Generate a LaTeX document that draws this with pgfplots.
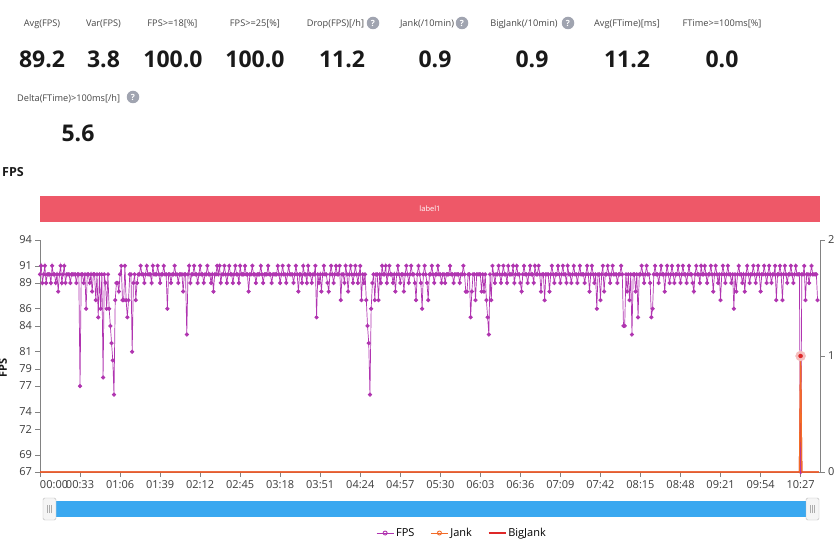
\documentclass[border=0pt]{standalone}
\usepackage{fontspec}
\setmainfont{Open Sans}
\usepackage{pgfplots}
\usepackage{pgfplotstable}
\pgfplotsset{compat=1.18}
\definecolor{fpsc}{RGB}{176,52,176}
\definecolor{jankc}{RGB}{242,107,40}
\definecolor{bigjc}{RGB}{222,40,40}
\definecolor{labc}{RGB}{70,70,70}
\definecolor{valc}{RGB}{25,25,25}
\definecolor{iconc}{RGB}{160,164,176}
\definecolor{barc}{RGB}{238,88,104}
\definecolor{slidc}{RGB}{58,168,240}
\definecolor{axisc}{RGB}{130,130,130}
\definecolor{tickc}{RGB}{60,60,60}

\pgfplotstableread[row sep=\\]{
fps\\
90\\91\\89\\90\\91\\89\\90\\90\\90\\89\\91\\90\\90\\89\\90\\88\\90\\91\\89\\90\\
91\\89\\90\\90\\90\\89\\90\\90\\90\\90\\89\\90\\90\\77\\90\\90\\89\\90\\86\\90\\
90\\89\\90\\88\\90\\90\\87\\90\\85\\90\\86\\90\\78\\90\\89\\86\\90\\86\\84\\82\\
80\\76\\87\\89\\89\\88\\90\\91\\87\\87\\91\\87\\85\\87\\90\\90\\81\\89\\90\\87\\
89\\90\\90\\91\\90\\90\\89\\90\\91\\90\\90\\90\\89\\91\\90\\90\\90\\91\\90\\89\\
90\\90\\91\\90\\90\\86\\90\\90\\89\\90\\90\\91\\90\\90\\89\\90\\90\\90\\88\\90\\
90\\83\\90\\91\\89\\90\\90\\91\\90\\90\\89\\90\\91\\90\\90\\89\\90\\90\\91\\90\\
90\\89\\90\\88\\90\\90\\91\\90\\91\\89\\90\\90\\91\\90\\89\\90\\91\\90\\90\\89\\
90\\91\\90\\90\\89\\91\\90\\90\\90\\91\\90\\90\\88\\90\\90\\91\\90\\90\\89\\90\\
90\\90\\91\\90\\89\\90\\90\\90\\91\\90\\90\\89\\90\\90\\90\\90\\91\\90\\89\\90\\
91\\90\\90\\89\\90\\91\\90\\90\\90\\89\\90\\91\\90\\88\\90\\90\\89\\91\\90\\90\\
89\\91\\90\\90\\89\\90\\90\\91\\85\\90\\89\\90\\88\\90\\91\\90\\90\\89\\88\\90\\
91\\90\\89\\90\\91\\90\\90\\91\\87\\90\\90\\89\\91\\90\\88\\90\\91\\90\\89\\90\\
91\\90\\89\\90\\91\\87\\90\\89\\90\\87\\84\\82\\76\\86\\89\\90\\87\\90\\90\\87\\
90\\89\\91\\90\\90\\91\\89\\90\\91\\90\\90\\89\\90\\88\\90\\91\\90\\89\\90\\90\\
88\\90\\91\\90\\89\\90\\91\\90\\90\\89\\87\\90\\91\\90\\89\\86\\90\\91\\90\\89\\
87\\90\\90\\91\\90\\89\\90\\90\\91\\90\\90\\89\\90\\90\\89\\90\\90\\90\\91\\90\\
90\\89\\90\\90\\90\\90\\89\\90\\90\\91\\90\\88\\88\\90\\90\\85\\88\\90\\90\\87\\
90\\90\\90\\90\\88\\90\\88\\90\\87\\85\\83\\90\\87\\91\\90\\89\\90\\90\\91\\90\\
89\\90\\91\\90\\90\\89\\91\\90\\90\\90\\91\\89\\90\\91\\90\\90\\89\\88\\90\\91\\
90\\90\\89\\90\\91\\90\\90\\89\\91\\90\\90\\91\\90\\88\\90\\90\\87\\90\\90\\90\\
88\\90\\91\\90\\89\\90\\90\\91\\90\\89\\90\\91\\90\\90\\89\\91\\90\\90\\89\\90\\
91\\90\\90\\89\\90\\91\\90\\90\\90\\89\\90\\91\\90\\88\\90\\91\\90\\89\\90\\86\\
90\\90\\87\\90\\91\\88\\90\\90\\91\\90\\89\\90\\91\\90\\90\\90\\89\\90\\90\\91\\
90\\84\\84\\90\\88\\90\\87\\90\\83\\90\\90\\88\\90\\85\\90\\90\\91\\90\\89\\90\\
91\\90\\90\\89\\85\\86\\90\\91\\90\\90\\89\\90\\91\\90\\90\\88\\90\\91\\90\\89\\
90\\91\\90\\89\\90\\90\\91\\90\\89\\90\\91\\90\\90\\89\\90\\91\\90\\90\\89\\88\\
90\\91\\90\\90\\89\\91\\90\\90\\91\\90\\89\\90\\90\\91\\90\\88\\90\\91\\90\\89\\
90\\87\\90\\91\\90\\89\\90\\91\\90\\90\\89\\90\\86\\90\\88\\90\\91\\90\\90\\89\\
90\\88\\90\\91\\90\\89\\90\\90\\91\\90\\89\\90\\91\\90\\88\\90\\90\\91\\90\\89\\
90\\91\\90\\89\\90\\90\\91\\87\\90\\90\\91\\90\\87\\90\\91\\90\\89\\90\\90\\91\\
90\\89\\90\\91\\90\\90\\90\\67\\90\\90\\91\\87\\90\\90\\89\\90\\91\\90\\90\\90\\
90\\87\\
}\fpsdata

\pgfplotstableread[row sep=\\]{
t jank\\
0 0\\
626 0\\
627 1\\
628 0\\
642 0\\
}\jankdata

\pgfplotstableread[row sep=\\]{
t bigjank\\
0 0\\
626 0\\
627 1\\
628 0\\
642 0\\
}\bigjankdata

\begin{document}
\begin{tikzpicture}[x=1pt,y=1pt]
\useasboundingbox (0,0) rectangle (840,546);
\fill[white] (0,0) rectangle (840,546);
\tikzset{
  lab/.style={font=\fontsize{9.2}{11}\selectfont, text=labc, inner sep=0pt},
  val/.style={font=\fontsize{23}{28}\selectfont\bfseries, text=valc, inner sep=0pt},
  qicon/.style={circle, fill=iconc, text=white, inner sep=0pt, minimum size=12.5pt, font=\fontsize{8.5}{9}\selectfont\bfseries}
}
% stats labels
\node[lab] at (42,522) {Avg(FPS)};
\node[lab] at (103.5,522) {Var(FPS)};
\node[lab] at (172.5,522) {FPS>=18[\%]};
\node[lab] at (255,522) {FPS>=25[\%]};
\node[lab] at (335.5,522) {Drop(FPS)[/h]};
\node[qicon] at (373,523) {?};
\node[lab] at (427,522) {Jank(/10min)};
\node[qicon] at (462,523) {?};
\node[lab] at (524,522) {BigJank(/10min)};
\node[qicon] at (568,523) {?};
\node[lab] at (627,522) {Avg(FTime)[ms]};
\node[lab] at (722,522) {FTime>=100ms[\%]};
% stats values
\node[val] at (42,486.5) {89.2};
\node[val] at (103.5,486.5) {3.8};
\node[val] at (173,486.5) {100.0};
\node[val] at (255,486.5) {100.0};
\node[val] at (342,486.5) {11.2};
\node[val] at (435,486.5) {0.9};
\node[val] at (532,486.5) {0.9};
\node[val] at (627,486.5) {11.2};
\node[val] at (722,486.5) {0.0};
% second row
\node[lab, anchor=west] at (17,447.5) {Delta(FTime)>100ms[/h]};
\node[qicon] at (133,449) {?};
\node[val] at (78,413) {5.6};
% chart title
\node[font=\fontsize{12.5}{14}\selectfont\bfseries, text=valc, inner sep=0pt] at (13,374) {FPS};
% label bar
\fill[barc] (40,324) rectangle (820,350);
\node[text=white, font=\fontsize{7.5}{9}\selectfont, inner sep=0pt] at (430,337) {label1};
% y label
\node[rotate=90, font=\fontsize{11}{12}\selectfont\bfseries, text=valc, inner sep=0pt] at (3,178) {FPS};
% slider
\fill[slidc] (44,29) rectangle (818,45);
\foreach \hx in {49.5,812.5}{
  \draw[fill=gray!8, draw=gray!55, rounded corners=1.5pt] (\hx-6.5,26) rectangle (\hx+6.5,48);
  \draw[gray!65, line width=0.5pt] (\hx-2,33)--(\hx-2,41) (\hx,33)--(\hx,41) (\hx+2,33)--(\hx+2,41);
}

\begin{axis}[
  at={(40pt,74pt)}, anchor=south west,
  scale only axis, width=780pt, height=232pt,
  xmin=0, xmax=643, ymin=67, ymax=94,
  ytick={67,69,72,74,77,79,81,84,86,89,91,94},
  xtick={0,33,...,627},
  xticklabels={\makebox[0pt][l]{00:00},00:33,01:06,01:39,02:12,02:45,03:18,03:51,04:24,04:57,05:30,06:03,06:36,07:09,07:42,08:15,08:48,09:21,09:54,10:27},
  axis x line*=bottom, axis y line*=left,
  axis line style={draw=axisc, -},
  tick style={draw=axisc, line width=0.5pt},
  tick align=outside, major tick length=4.5pt,
  ticklabel style={font=\fontsize{11}{13}\selectfont, text=tickc},
  /pgf/number format/assume math mode=true,
  legend style={at={(0.541,-0.263)}, anchor=center, draw=none, fill=none,
    legend columns=3, font=\fontsize{11}{13}\selectfont,
    /tikz/every even column/.append style={column sep=14pt}},
  legend cell align=left,
]
\addplot[fpsc, line width=0.7pt, mark=*, mark size=1.75pt, mark options={fill=fpsc, draw=fpsc}, forget plot] table[x expr=\coordindex, y=fps] {\fpsdata};
\addlegendimage{fpsc, line width=0.9pt, mark=o, mark size=2pt, mark options={fill=white}}
\addlegendentry{FPS}
\addlegendimage{jankc, line width=0.9pt, mark=o, mark size=2pt, mark options={fill=white}}
\addlegendentry{Jank}
\addlegendimage{bigjc, line width=1.2pt}
\addlegendentry{BigJank}
\end{axis}

\begin{axis}[
  at={(40pt,74pt)}, anchor=south west,
  scale only axis, width=780pt, height=232pt,
  xmin=0, xmax=643, ymin=0, ymax=2,
  ytick={0,1,2},
  axis y line*=right, axis x line=none,
  axis line style={draw=axisc, -},
  tick style={draw=axisc, line width=0.5pt},
  tick align=outside, major tick length=4.5pt,
  ticklabel style={font=\fontsize{11}{13}\selectfont, text=tickc},
  /pgf/number format/assume math mode=true,
  clip=false,
]
\addplot[bigjc, line width=1.1pt] table[x=t, y=bigjank] {\bigjankdata};
\addplot[jankc, line width=1.1pt] table[x=t, y=jank] {\jankdata};
\addplot[bigjc!30, only marks, mark=*, mark size=5pt, mark options={fill=bigjc!30, draw=bigjc!30}] coordinates {(627,1)};
\addplot[bigjc, only marks, mark=*, mark size=2pt, mark options={fill=bigjc, draw=bigjc}] coordinates {(627,1)};
\end{axis}
\end{tikzpicture}
\end{document}
